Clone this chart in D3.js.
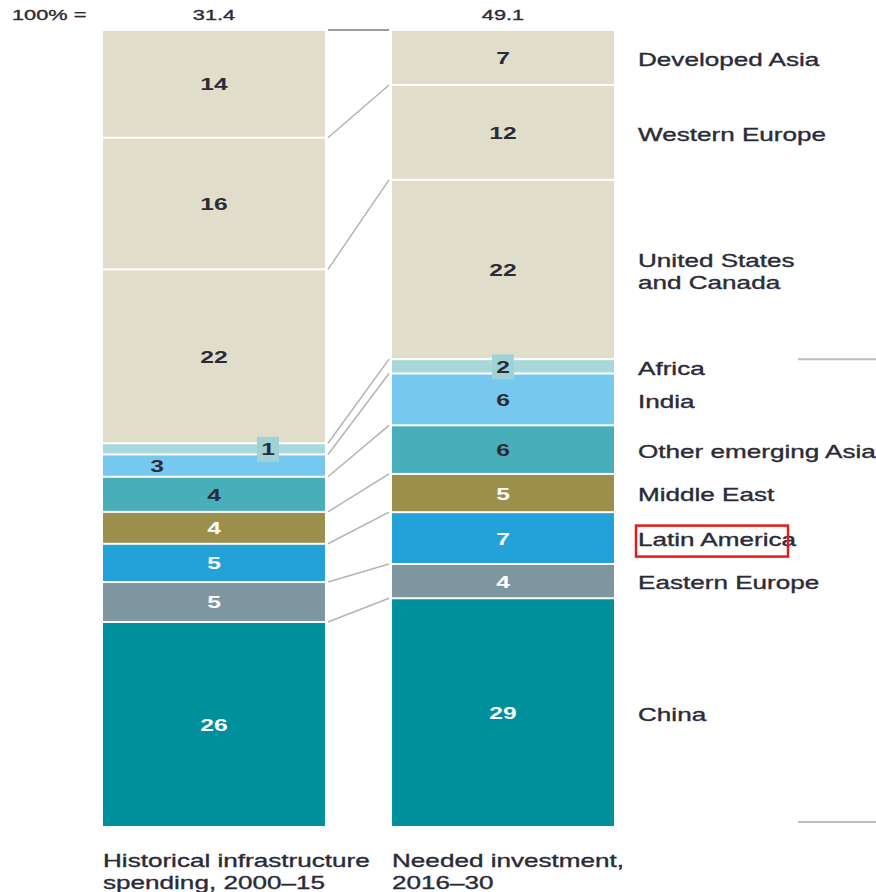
<!DOCTYPE html>
<html lang="en">
<head>
<meta charset="UTF-8">
<script src="https://cdn.jsdelivr.net/npm/d3@7"></script>
<title>Infrastructure spending by region</title>
<style>
	body { margin: 0; background: #fff; }
	svg { display: block; font-family: "Liberation Sans", Arial, sans-serif; }
	.lbl { stroke: #2b2b38; stroke-width: 0.35px; }
</style>
</head>
<body>
<div id="chart"></div>
<script>
// data
const columns = ['historical', 'needed'];
const columnTitles = [['Historical infrastructure', 'spending, 2000–15'], ['Needed investment,', '2016–30']];
const totals = ['31.4', '49.1'];
const regions = ['Developed Asia', 'Western Europe', 'United States and Canada', 'Africa', 'India',
	'Other emerging Asia', 'Middle East', 'Latin America', 'Eastern Europe', 'China'];
// shares used for segment heights (estimated), and the printed labels
const historicalShare = [13.5, 16.5, 21.8, 1.4, 2.8, 4.4, 4.0, 4.8, 5.0, 25.7];
const neededShare = [6.9, 11.9, 22.5, 1.8, 6.5, 6.1, 4.8, 6.5, 4.3, 28.7];
const historicalLabels = [14, 16, 22, 1, 3, 4, 4, 5, 5, 26];
const neededLabels = [7, 12, 22, 2, 6, 6, 5, 7, 4, 29];
const highlighted = 'Latin America';

const colors = {
	'Developed Asia': '#e0ddca', 'Western Europe': '#e0ddca', 'United States and Canada': '#e0ddca',
	'Africa': '#a8d8db', 'India': '#77c8ee', 'Other emerging Asia': '#48aeb9',
	'Middle East': '#9c8f4b', 'Latin America': '#23a2da', 'Eastern Europe': '#7e96a0', 'China': '#00909c'
};
const whiteText = ['Middle East', 'Latin America', 'Eastern Europe', 'China'];
const boxed = ['Africa'];
const nudge = { historical: { 'India': -57, 'Africa': 54 }, needed: {} };

const width = 876, height = 892;
const sx = 1.45; // text in the original is stretched wide
const ink = '#2b2b38';

const svg = d3.select('#chart').append('svg')
	.attr('width', width).attr('height', height);

const x = d3.scaleBand().domain(columns).range([103, 614]).paddingInner(0.232).paddingOuter(0);
const shares = { historical: historicalShare, needed: neededShare };
const labels = { historical: historicalLabels, needed: neededLabels };

// stacked positions per column
const stacks = {};
columns.forEach(c => {
	const y = d3.scaleLinear().domain([0, d3.sum(shares[c])]).range([31, 828]);
	let acc = 0;
	stacks[c] = regions.map((r, i) => {
		const s = { region: r, y0: y(acc), y1: y(acc + shares[c][i]), label: labels[c][i], col: c };
		acc += shares[c][i];
		return s;
	});
});

function stretchText(sel, px, py, anchor) {
	return sel.attr('transform', `translate(${px},${py}) scale(${sx},1)`)
		.attr('text-anchor', anchor || 'middle');
}

// bars
columns.forEach(c => {
	const g = svg.append('g');
	g.selectAll('rect').data(stacks[c]).enter().append('rect')
		.attr('x', x(c)).attr('width', x.bandwidth())
		.attr('y', d => d.y0).attr('height', d => d.y1 - d.y0 - 2)
		.attr('fill', d => colors[d.region]);

	stacks[c].forEach(d => {
		const cx = x(c) + x.bandwidth() / 2 + (nudge[c][d.region] || 0);
		const cy = (d.y0 + d.y1 - 2) / 2;
		if (boxed.includes(d.region)) {
			g.append('rect').attr('x', cx - 11).attr('y', cy - 12)
				.attr('width', 22).attr('height', 25).attr('fill', '#9fd1d5');
		}
		stretchText(g.append('text'), cx, cy)
			.attr('dy', '0.38em')
			.attr('font-size', 17).attr('font-weight', 'bold')
			.attr('fill', whiteText.includes(d.region) ? '#fff' : ink)
			.text(d.label);
	});
});

// connectors between the two columns
const xl = x('historical') + x.bandwidth() + 3, xr = x('needed') - 3;
svg.append('line').attr('x1', xl).attr('x2', xr).attr('y1', 30).attr('y2', 30)
	.attr('stroke', '#9a9a9a').attr('stroke-width', 2);
svg.selectAll('.conn').data(regions.slice(1)).enter().append('line')
	.attr('class', 'conn')
	.attr('x1', xl).attr('x2', xr)
	.attr('y1', (r, i) => stacks.historical[i + 1].y0 - 1)
	.attr('y2', (r, i) => stacks.needed[i + 1].y0 - 1)
	.attr('stroke', '#b4b4b4').attr('stroke-width', 1.5);

// header
stretchText(svg.append('text'), 12, 14, 'start').attr('dy', '0.38em').attr('class', 'lbl')
	.attr('font-size', 15).attr('fill', ink).text('100% =');
columns.forEach((c, i) => {
	stretchText(svg.append('text'), x(c) + x.bandwidth() / 2, 14).attr('dy', '0.38em').attr('class', 'lbl')
		.attr('font-size', 15).attr('fill', ink).text(totals[i]);
});

// column titles
columns.forEach((c, i) => {
	columnTitles[i].forEach((line, j) => {
		stretchText(svg.append('text'), x(c), 860 + j * 22, 'start').attr('dy', '0.38em').attr('class', 'lbl')
			.attr('font-size', 18).attr('fill', ink).text(line);
	});
});

// region labels to the right
const lx = 638;
stacks.needed.forEach(d => {
	const cy = (d.y0 + d.y1 - 2) / 2 + 1.5;
	const lines = d.region === 'United States and Canada' ? ['United States', 'and Canada'] : [d.region];
	lines.forEach((line, j) => {
		stretchText(svg.append('text'), lx, cy + (j - (lines.length - 1) / 2) * 22, 'start')
			.attr('dy', '0.38em').attr('class', 'lbl')
			.attr('font-size', 18).attr('fill', ink).text(line);
	});
	if (d.region === highlighted) {
		svg.append('rect').attr('x', lx - 2).attr('y', cy - 14)
			.attr('width', 152).attr('height', 31)
			.attr('fill', 'none').attr('stroke', '#e8191c').attr('stroke-width', 2.5);
	}
});

// group separators on the right edge
const usEnd = stacks.needed[2].y1 - 1;
[usEnd, stacks.needed[9].y1 - 6].forEach(yy => {
	svg.append('line').attr('x1', 798).attr('x2', width).attr('y1', yy).attr('y2', yy)
		.attr('stroke', '#bdbdbd').attr('stroke-width', 2);
});
</script>
</body>
</html>
